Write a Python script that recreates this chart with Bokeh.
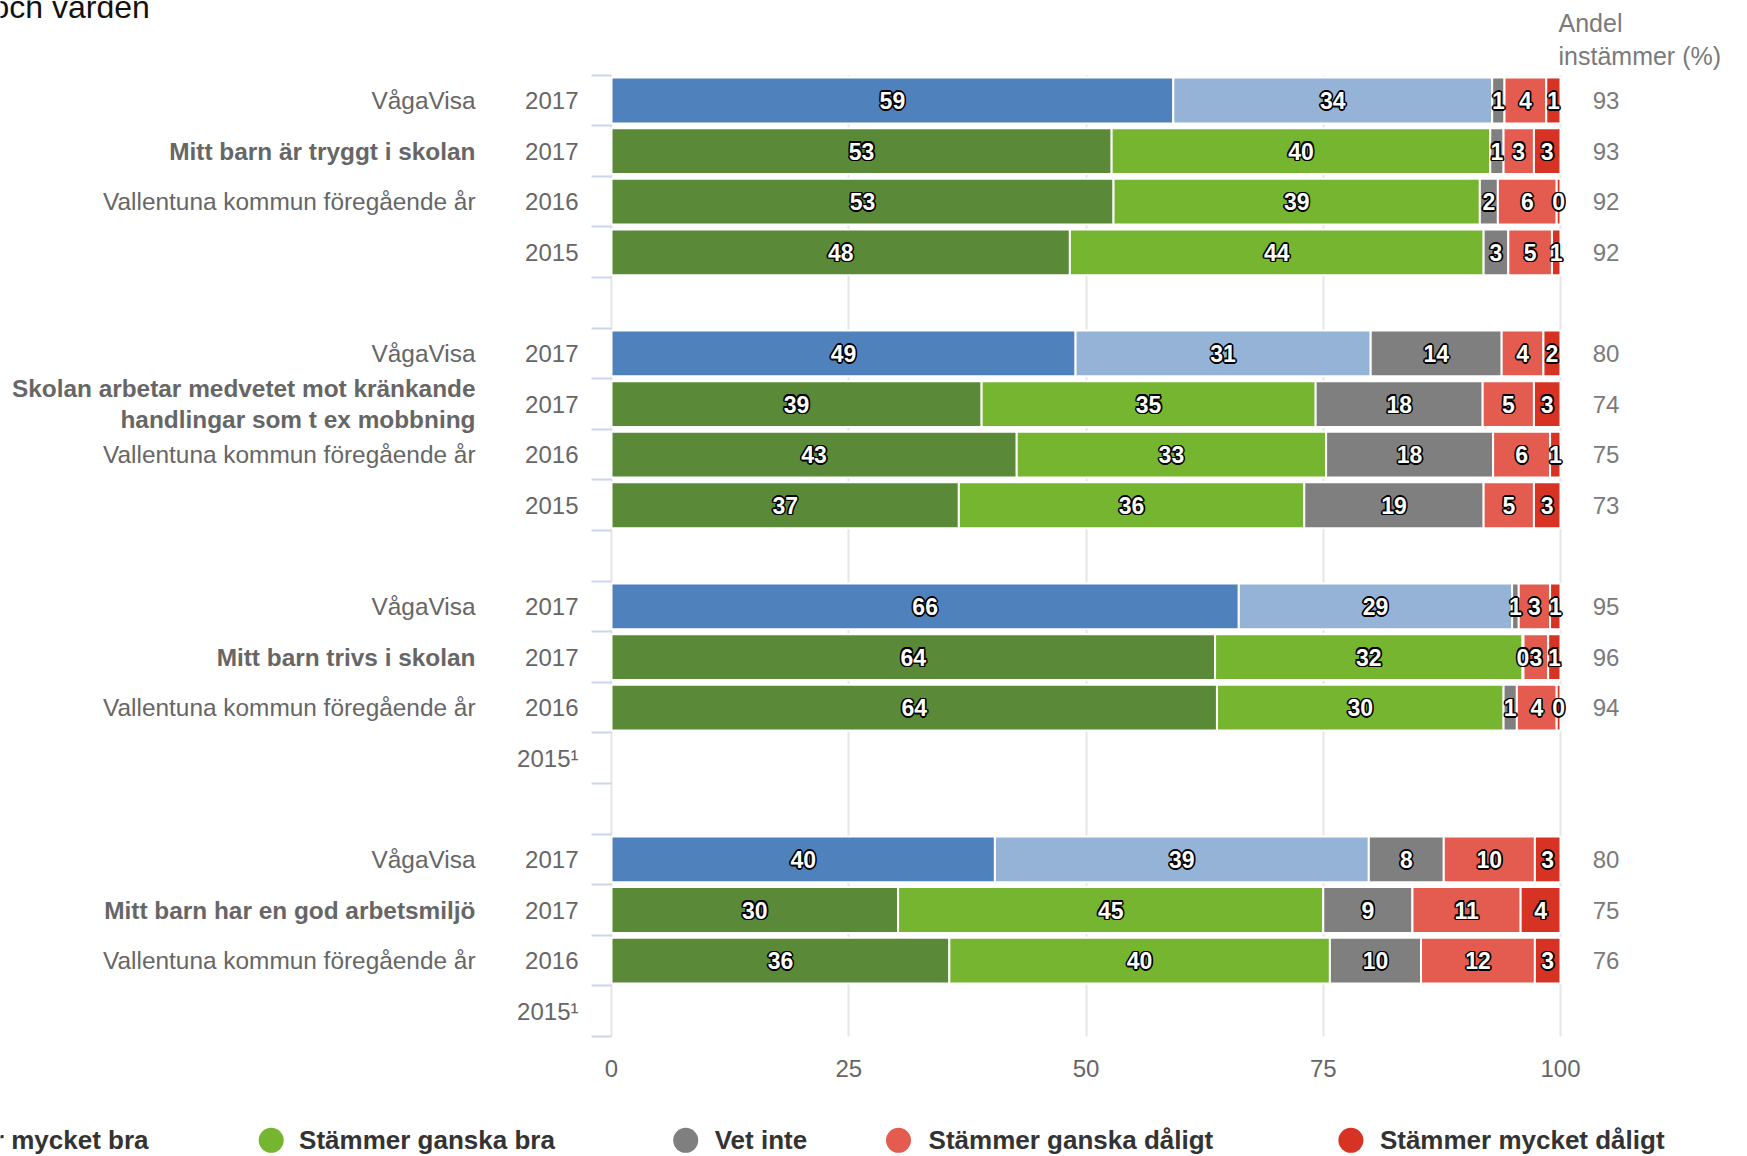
from bokeh.plotting import figure
from bokeh.models import Range1d, FixedTicker, ColumnDataSource, LabelSet, Label, Grid
from bokeh.embed import file_html
from bokeh.resources import INLINE
from bokeh.core.properties import value

# ---------------- data ----------------
categories = ["Stämmer mycket bra", "Stämmer ganska bra", "Vet inte",
              "Stämmer ganska dåligt", "Stämmer mycket dåligt"]

questions = ["Mitt barn är tryggt i skolan",
             "Skolan arbetar medvetet mot kränkande\nhandlingar som t ex mobbning",
             "Mitt barn trivs i skolan",
             "Mitt barn har en god arbetsmiljö"]

row_titles = ["VågaVisa", "", "Vallentuna kommun föregående år", ""]

years_q1 = ["2017", "2017", "2016", "2015"]
years_q2 = ["2017", "2017", "2016", "2015"]
years_q3 = ["2017", "2017", "2016", "2015¹"]
years_q4 = ["2017", "2017", "2016", "2015¹"]

# bar lengths (%) per row: VågaVisa 2017, Vallentuna 2017, 2016, 2015
q1_values = [[59.2, 33.6, 1.3, 4.4, 1.5],
             [52.7, 39.9, 1.4, 3.2, 2.8],
             [52.9, 38.6, 1.9, 6.2, 0.4],
             [48.3, 43.6, 2.6, 4.6, 0.9]]
q2_values = [[48.9, 31.1, 13.8, 4.4, 1.8],
             [39.0, 35.2, 17.6, 5.4, 2.8],
             [42.7, 32.6, 17.6, 6.0, 1.1],
             [36.6, 36.4, 18.9, 5.3, 2.8]]
q3_values = [[66.1, 28.8, 0.7, 3.3, 1.1],
             [63.6, 32.4, 0.1, 2.6, 1.3],
             [63.8, 30.2, 1.4, 4.2, 0.4],
             None]
q4_values = [[40.4, 39.4, 7.9, 9.6, 2.7],
             [30.2, 44.8, 9.4, 11.4, 4.2],
             [35.6, 40.1, 9.6, 12.0, 2.7],
             None]

# printed data labels
q1_labels = [[59, 34, 1, 4, 1], [53, 40, 1, 3, 3], [53, 39, 2, 6, 0], [48, 44, 3, 5, 1]]
q2_labels = [[49, 31, 14, 4, 2], [39, 35, 18, 5, 3], [43, 33, 18, 6, 1], [37, 36, 19, 5, 3]]
q3_labels = [[66, 29, 1, 3, 1], [64, 32, 0, 3, 1], [64, 30, 1, 4, 0], None]
q4_labels = [[40, 39, 8, 10, 3], [30, 45, 9, 11, 4], [36, 40, 10, 12, 3], None]

# "Andel instämmer (%)"
q1_andel = [93, 93, 92, 92]
q2_andel = [80, 74, 75, 73]
q3_andel = [95, 96, 94, None]
q4_andel = [80, 75, 76, None]

x_ticks = [0, 25, 50, 75, 100]

all_values = [q1_values, q2_values, q3_values, q4_values]
all_labels = [q1_labels, q2_labels, q3_labels, q4_labels]
all_andel = [q1_andel, q2_andel, q3_andel, q4_andel]
all_years = [years_q1, years_q2, years_q3, years_q4]

# ---------------- styles / layout (pixels) ----------------
FONT = "Liberation Sans"
colors_vv = ["#4f81bd", "#95b3d7", "#7f7f7f", "#e35c4f", "#d63324"]
colors_vk = ["#5a8a38", "#76b52f", "#7f7f7f", "#e35c4f", "#d63324"]
legend_colors = colors_vk

W = 1747
H = 1156
ZERO_X = 611.0
PX_X = 9.49          # pixels per percent
TOP_Y = 74.7
N_SLOTS = 19
PX_Y = (1036.0 - TOP_Y) / N_SLOTS
LINE_PX = 31.2       # line spacing of wrapped titles


def dx(px):
    return (px - ZERO_X) / PX_X


def dy(py):
    return (py - TOP_Y) / PX_Y


# ---------------- build sources ----------------
seg = dict(y=[], left=[], right=[], color=[], xm=[], lab=[])
rows = dict(y=[], year=[])
titles = dict(y=[], t=[])
bold = dict(y=[], t=[])
andel_src = dict(y=[], t=[])

for g in range(4):
    for r in range(4):
        yc = g * 5 + r + 0.5
        rows["y"].append(yc)
        rows["year"].append(all_years[g][r])
        if r == 1:
            lines = questions[g].split("\n")
            n = len(lines)
            for i, ln in enumerate(lines):
                bold["y"].append(yc + (i - (n - 1) / 2.0) * LINE_PX / PX_Y)
                bold["t"].append(ln)
        elif row_titles[r]:
            titles["y"].append(yc)
            titles["t"].append(row_titles[r])
        vals = all_values[g][r]
        if vals is None:
            continue
        cols = colors_vv if r == 0 else colors_vk
        left = 0.0
        for k, v in enumerate(vals):
            seg["y"].append(yc)
            seg["left"].append(left)
            seg["right"].append(left + v)
            seg["color"].append(cols[k])
            seg["xm"].append(left + v / 2.0)
            seg["lab"].append(str(all_labels[g][r][k]))
            left += v
        andel_src["y"].append(yc)
        andel_src["t"].append(str(all_andel[g][r]))

# ---------------- figure ----------------
p = figure(width=W, height=H, x_range=Range1d(dx(0), dx(W)), y_range=Range1d(dy(H), dy(0)),
           output_backend="svg", toolbar_location=None,
           x_axis_location=None, y_axis_location=None, min_border=0)
p.outline_line_color = None
p.background_fill_color = "white"
p.border_fill_color = "white"
p.title.visible = False
# drop the default full-height grids
p.center = [r for r in p.center if not isinstance(r, Grid)]

# vertical value grid (0..100), limited to the bar area
p.add_layout(Grid(dimension=0, ticker=FixedTicker(ticks=x_ticks), cross_bounds=(0, N_SLOTS),
                  grid_line_color="#e6e6e6", grid_line_width=2))
# category-axis tick marks at the left of the bar area
p.add_layout(Grid(dimension=1, ticker=FixedTicker(ticks=list(range(N_SLOTS + 1))),
                  cross_bounds=(dx(591), 0),
                  grid_line_color="#ccd6eb", grid_line_width=2))

src = ColumnDataSource(seg)
p.hbar(y="y", left="left", right="right", height=0.905, fill_color="color",
       line_color="white", line_width=2, source=src)

# data labels: black halo + white bold text
for ox, oy in [(-1.6, 0), (1.6, 0), (0, -1.6), (0, 1.6),
               (-1.2, -1.2), (1.2, -1.2), (-1.2, 1.2), (1.2, 1.2)]:
    p.add_layout(LabelSet(x="xm", y="y", text="lab", source=src, x_offset=ox, y_offset=oy,
                          text_align="center", text_baseline="middle",
                          text_font=value(FONT), text_font_style="bold", text_font_size="23px",
                          text_color="black"))
p.add_layout(LabelSet(x="xm", y="y", text="lab", source=src,
                      text_align="center", text_baseline="middle",
                      text_font=value(FONT), text_font_style="bold", text_font_size="23px",
                      text_color="white"))

# left labels
p.add_layout(LabelSet(x=dx(578), y="y", text="year", source=ColumnDataSource(rows),
                      text_align="right", text_baseline="middle",
                      text_font=value(FONT), text_font_size="24px", text_color="#666666"))
p.add_layout(LabelSet(x=dx(475), y="y", text="t", source=ColumnDataSource(titles),
                      text_align="right", text_baseline="middle",
                      text_font=value(FONT), text_font_size="24.4px", text_color="#666666"))
p.add_layout(LabelSet(x=dx(475), y="y", text="t", source=ColumnDataSource(bold),
                      text_align="right", text_baseline="middle",
                      text_font=value(FONT), text_font_style="bold", text_font_size="24.4px",
                      text_color="#666666"))
# right column
p.add_layout(LabelSet(x=dx(1605.6), y="y", text="t", source=ColumnDataSource(andel_src),
                      text_align="center", text_baseline="middle",
                      text_font=value(FONT), text_font_size="24px", text_color="#7a7a7a"))
p.add_layout(Label(x=dx(1558), y=dy(22.3), text="Andel", text_align="left",
                   text_baseline="middle", text_font=FONT, text_font_size="25px",
                   text_color="#7a7a7a"))
p.add_layout(Label(x=dx(1558), y=dy(55.7), text="instämmer (%)", text_align="left",
                   text_baseline="middle", text_font=FONT, text_font_size="25px",
                   text_color="#7a7a7a"))

# x tick labels
p.add_layout(LabelSet(x="x", y=dy(1067.5), text="t",
                      source=ColumnDataSource(dict(x=x_ticks, t=[str(t) for t in x_ticks])),
                      text_align="center", text_baseline="middle",
                      text_font=value(FONT), text_font_size="24px", text_color="#666666"))

# partially visible heading
p.add_layout(Label(x=dx(-9), y=dy(6), text="och värden", text_align="left",
                   text_baseline="alphabetic", text_font=FONT, text_font_size="32px",
                   text_color="#111111"))

# legend
legend_circle_x = [-135.8, 270.7, 685.2, 898.0, 1350.4]
legend_text_x = [-107.8, 298.6, 714.2, 928.1, 1379.4]
legend_y = [1139.8] * 5
lsrc = ColumnDataSource(dict(cx=[dx(v) for v in legend_circle_x],
                             tx=[dx(v) for v in legend_text_x],
                             cy=[dy(v) for v in legend_y],
                             name=categories, color=legend_colors))
p.scatter(x="cx", y="cy", size=25, marker="circle", fill_color="color",
          line_color=None, source=lsrc)
p.text(x="tx", y="cy", text="name", text_align="left", text_baseline="middle",
       text_font=value(FONT), text_font_style="bold", text_font_size="26px",
       text_color="#333333", source=lsrc)

open("out.html", "w").write(file_html(p, INLINE))
